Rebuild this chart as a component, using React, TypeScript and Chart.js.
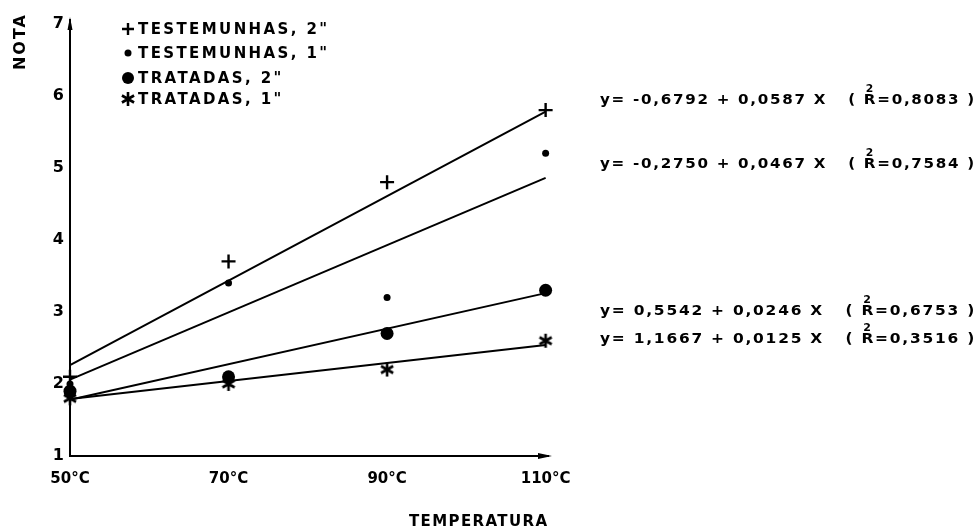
import React, { useEffect, useRef } from "react";
import { Chart, registerables } from "chart.js";

Chart.register(...registerables);

// ---- data ----
const temperatures = [50, 70, 90, 110];
const xTickValues = [50, 70, 90, 110];
const yTickValues = [1, 2, 3, 4, 5, 6, 7];

const testemunhas2 = [2.1, 3.7, 4.8, 5.8];
const testemunhas1 = [2.0, 3.4, 3.2, 5.2];
const tratadas2 = [1.9, 2.1, 2.7, 3.3];
const tratadas1 = [1.8, 2.0, 2.2, 2.6];

const fitX = [50, 110];
const fitTestemunhas2 = [2.26, 5.78];
const fitTestemunhas1 = [2.06, 4.86];
const fitTratadas2 = [1.78, 3.26];
const fitTratadas1 = [1.79, 2.54];

const legendLabels = ['TESTEMUNHAS, 2"', 'TESTEMUNHAS, 1"', 'TRATADAS, 2"', 'TRATADAS, 1"'];
const legendMarkers = ["plus", "dot", "bigdot", "star"];

const eqLhs = ["y= -0,6792 + 0,0587 X", "y= -0,2750 + 0,0467 X", "y= 0,5542 + 0,0246 X", "y= 1,1667 + 0,0125 X"];
const eqR2 = ["0,8083", "0,7584", "0,6753", "0,3516"];

const yTitle = "NOTA";
const xTitle = "TEMPERATURA";

const FONT = "'DejaVu Sans', sans-serif";

function pts(xs: number[], ys: number[]) {
  return xs.map((x, i) => ({ x, y: ys[i] }));
}

function asteriskPath(ctx: CanvasRenderingContext2D, x: number, y: number, r: number) {
  ctx.beginPath();
  for (let k = 0; k < 3; k++) {
    const a = Math.PI / 2 + (k * Math.PI) / 3;
    ctx.moveTo(x - r * Math.cos(a), y - r * Math.sin(a));
    ctx.lineTo(x + r * Math.cos(a), y + r * Math.sin(a));
  }
  ctx.stroke();
}

function makeAsterisk(): HTMLCanvasElement {
  const c = document.createElement("canvas");
  c.width = 18;
  c.height = 18;
  const g = c.getContext("2d")!;
  g.strokeStyle = "#000";
  g.lineWidth = 2.6;
  g.lineCap = "butt";
  asteriskPath(g, 9, 9, 7);
  return c;
}

function drawMarker(ctx: CanvasRenderingContext2D, kind: string, x: number, y: number) {
  ctx.save();
  ctx.fillStyle = "#000";
  ctx.strokeStyle = "#000";
  ctx.lineWidth = 2.4;
  if (kind === "plus") {
    ctx.beginPath();
    ctx.moveTo(x - 6, y); ctx.lineTo(x + 6, y);
    ctx.moveTo(x, y - 6); ctx.lineTo(x, y + 6);
    ctx.stroke();
  } else if (kind === "dot") {
    ctx.beginPath(); ctx.arc(x, y, 3.5, 0, Math.PI * 2); ctx.fill();
  } else if (kind === "bigdot") {
    ctx.beginPath(); ctx.arc(x, y, 6, 0, Math.PI * 2); ctx.fill();
  } else {
    ctx.lineWidth = 2.6;
    asteriskPath(ctx, x, y, 7);
  }
  ctx.restore();
}

function fitText(ctx: CanvasRenderingContext2D, text: string, x: number, y: number, width: number) {
  (ctx as any).letterSpacing = "0px";
  const w = ctx.measureText(text).width;
  const ls = Math.max(0, (width - w) / Math.max(1, text.length - 1));
  (ctx as any).letterSpacing = ls + "px";
  ctx.fillText(text, x, y);
  (ctx as any).letterSpacing = "0px";
}

const annotations = {
  id: "annotations",
  afterDraw(chart: any) {
    const ctx: CanvasRenderingContext2D = chart.ctx;
    const a = chart.chartArea;
    ctx.save();
    ctx.fillStyle = "#000";
    ctx.strokeStyle = "#000";

    // axis arrows
    ctx.beginPath();
    ctx.moveTo(a.left, a.top - 3);
    ctx.lineTo(a.left - 2.5, a.top + 10);
    ctx.lineTo(a.left + 2.5, a.top + 10);
    ctx.closePath();
    ctx.fill();
    ctx.beginPath();
    ctx.moveTo(a.right + 4, a.bottom);
    ctx.lineTo(a.right - 10, a.bottom - 3);
    ctx.lineTo(a.right - 10, a.bottom + 3);
    ctx.closePath();
    ctx.fill();

    // legend
    const rows = [29, 53, 78, 99];
    ctx.font = `bold 15px ${FONT}`;
    ctx.textBaseline = "middle";
    ctx.textAlign = "left";
    legendLabels.forEach((lab, i) => {
      drawMarker(ctx, legendMarkers[i], 128, rows[i]);
      (ctx as any).letterSpacing = "2.4px";
      ctx.fillText(lab, 138, rows[i] + 1);
      (ctx as any).letterSpacing = "0px";
    });

    // y title
    ctx.save();
    ctx.translate(21, 43);
    ctx.rotate(-Math.PI / 2);
    ctx.font = `bold 16px ${FONT}`;
    ctx.textAlign = "left";
    fitText(ctx, yTitle, -27, 0, 55);
    ctx.restore();

    // x title
    ctx.font = `bold 15px ${FONT}`;
    ctx.textAlign = "left";
    fitText(ctx, xTitle, 409, 522, 138);

    // equations
    const eqY = [100, 164, 311, 339];
    const eqStart = 600;
    const eqEnd = 976;
    eqLhs.forEach((lhs, i) => {
      ctx.font = `bold 14px ${FONT}`;
      (ctx as any).letterSpacing = "1.6px";
      const left = lhs + "   ( R";
      const right = "=" + eqR2[i] + " )";
      const wl = ctx.measureText(left).width;
      const wr = ctx.measureText(right).width;
      const total = wl + wr;
      const scale = (eqEnd - eqStart) / total;
      ctx.save();
      ctx.translate(eqStart, eqY[i]);
      ctx.scale(scale, 1);
      ctx.fillText(left, 0, 0);
      ctx.fillText(right, wl, 0);
      const wR = ctx.measureText("R").width;
      ctx.font = `bold 10px ${FONT}`;
      (ctx as any).letterSpacing = "0px";
      ctx.textAlign = "center";
      ctx.fillText("2", wl - wR / 2 - 1, -11);
      ctx.textAlign = "left";
      ctx.restore();
      (ctx as any).letterSpacing = "0px";
    });

    ctx.restore();
  },
};

export default function App() {
  const ref = useRef<HTMLCanvasElement | null>(null);

  useEffect(() => {
    if (!ref.current) return;
    const asterisk = makeAsterisk();
    const lineDs = (data: number[]) => ({
      type: "line" as const,
      data: pts(fitX, data),
      borderColor: "#000",
      borderWidth: 2,
      pointRadius: 0,
      showLine: true,
      fill: false,
      clip: false as any,
    });
    const chart = new Chart(ref.current, {
      type: "scatter",
      data: {
        datasets: [
          {
            label: legendLabels[0],
            data: pts(temperatures, testemunhas2),
            pointStyle: "cross",
            pointRadius: 7,
            borderWidth: 2.4,
            borderColor: "#000",
            backgroundColor: "#000",
            clip: false as any,
          },
          {
            label: legendLabels[1],
            data: pts(temperatures, testemunhas1),
            pointStyle: "circle",
            pointRadius: 3.5,
            borderWidth: 0,
            backgroundColor: "#000",
            clip: false as any,
          },
          {
            label: legendLabels[2],
            data: pts(temperatures, tratadas2),
            pointStyle: "circle",
            pointRadius: 6.5,
            borderWidth: 0,
            backgroundColor: "#000",
            clip: false as any,
          },
          {
            label: legendLabels[3],
            data: pts(temperatures, tratadas1),
            pointStyle: asterisk,
            pointRadius: 7,
            borderColor: "#000",
            backgroundColor: "#000",
            clip: false as any,
          },
          lineDs(fitTestemunhas2),
          lineDs(fitTestemunhas1),
          lineDs(fitTratadas2),
          lineDs(fitTratadas1),
        ] as any,
      },
      options: {
        animation: false,
        responsive: false,
        maintainAspectRatio: false,
        layout: { padding: { left: 30, right: 432, top: 20, bottom: 30 } },
        plugins: { legend: { display: false }, tooltip: { enabled: false } },
        scales: {
          x: {
            type: "linear",
            min: 50,
            max: 110.3,
            afterBuildTicks: (s: any) => {
              s.ticks = xTickValues.map((v) => ({ value: v }));
            },
            afterFit: (s: any) => {
              s.height = 45;
            },
            grid: { display: false, drawTicks: false },
            border: { display: true, color: "#000", width: 2 },
            ticks: {
              color: "#000",
              padding: 14,
              maxRotation: 0,
              autoSkip: false,
              font: { family: FONT, size: 15, weight: "bold" },
              callback: (v: any) => `${v}°C`,
            },
          },
          y: {
            type: "linear",
            min: 1,
            max: 7.05,
            afterBuildTicks: (s: any) => {
              s.ticks = yTickValues.map((v) => ({ value: v }));
            },
            afterFit: (s: any) => {
              s.width = 40;
            },
            grid: { display: false, drawTicks: false },
            border: { display: true, color: "#000", width: 2 },
            ticks: {
              color: "#000",
              padding: 6,
              autoSkip: false,
              font: { family: FONT, size: 16, weight: "bold" },
              callback: (v: any) => `${v}`,
            },
          },
        },
      } as any,
      plugins: [annotations],
    });
    return () => chart.destroy();
  }, []);

  return (
    <div style={{ position: "fixed", left: 0, top: 0, width: 980, height: 531, background: "#fff" }}>
      <canvas ref={ref} width={980} height={531} style={{ width: 980, height: 531, display: "block" }} />
    </div>
  );
}
